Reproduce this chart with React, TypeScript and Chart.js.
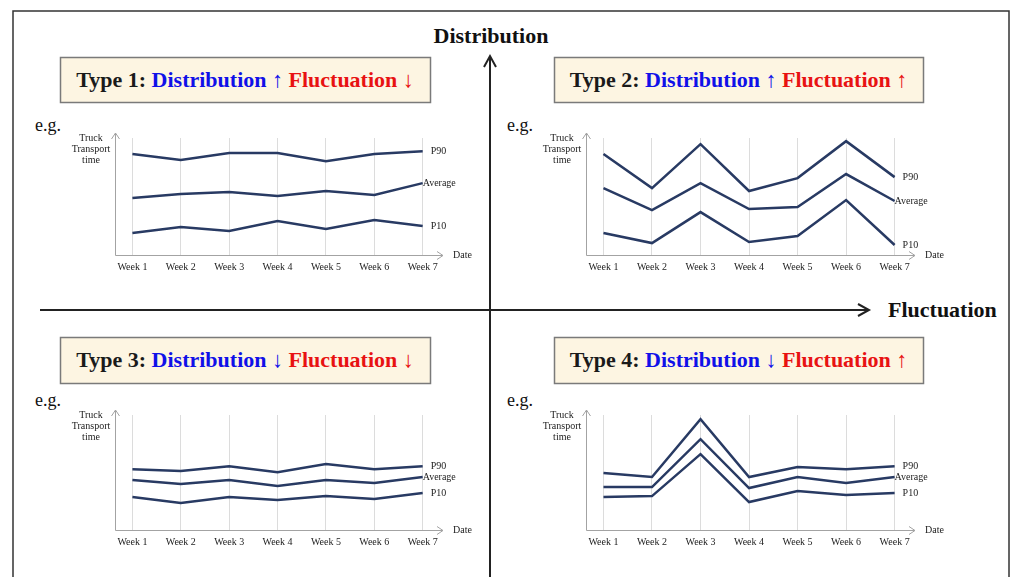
import React, { useEffect, useRef } from 'react';
import { Chart, registerables } from 'chart.js';

Chart.register(...registerables);

const weeks = ['Week 1', 'Week 2', 'Week 3', 'Week 4', 'Week 5', 'Week 6', 'Week 7'];
const seriesNames = ['P90', 'Average', 'P10'];

const type1P90 = [82.8, 77.9, 83.6, 83.6, 77.0, 82.8, 85.2];
const type1Avg = [46.7, 50.0, 51.6, 48.4, 52.5, 49.2, 59.0];
const type1P10 = [18.0, 23.0, 19.7, 27.9, 21.3, 28.7, 23.8];

const type2P90 = [82.8, 54.9, 91.0, 52.5, 63.1, 93.4, 63.9];
const type2Avg = [54.9, 36.9, 59.0, 37.7, 39.3, 66.4, 44.3];
const type2P10 = [18.0, 9.8, 35.2, 10.7, 15.6, 45.1, 8.2];

const type3P90 = [50.8, 49.2, 53.3, 48.3, 55.0, 50.8, 53.3];
const type3Avg = [41.7, 38.3, 41.7, 36.7, 41.7, 39.2, 44.2];
const type3P10 = [27.5, 22.5, 27.5, 25.0, 28.3, 25.8, 30.8];

const type4P90 = [47.5, 44.2, 92.5, 44.2, 52.5, 50.8, 53.3];
const type4Avg = [35.8, 35.8, 75.8, 35.0, 44.2, 39.2, 44.2];
const type4P10 = [27.5, 28.3, 63.3, 23.3, 32.5, 29.2, 30.8];

const SERIF = "'Liberation Serif', 'Times New Roman', serif";
const LINE_COLOR = '#283a63';

type MiniProps = {
  yAxisX: number;
  top: number;
  bottom: number;
  right: number;
  series: number[][];
};

const PAD_L = 55;
const PAD_R = 37;
const PAD_T = 20;
const PAD_B = 13;
const XAXIS_H = 20;

function MiniChart({ yAxisX, top, bottom, right, series }: MiniProps) {
  const ref = useRef<HTMLCanvasElement | null>(null);
  const left = yAxisX - PAD_L;
  const ctop = top - PAD_T;
  const width = right + PAD_R - left;
  const height = bottom + XAXIS_H + PAD_B - ctop;

  useEffect(() => {
    if (!ref.current) return;
    const decor = {
      id: 'decor',
      beforeDatasetsDraw(chart: any) {
        const { ctx, chartArea: ca } = chart;
        ctx.save();
        ctx.strokeStyle = '#a3a3a3';
        ctx.lineWidth = 1;
        const x0 = Math.round(ca.left) + 0.5;
        const y0 = Math.round(ca.bottom) + 0.5;
        ctx.beginPath();
        ctx.moveTo(x0, y0);
        ctx.lineTo(x0, ca.top - 5);
        ctx.moveTo(x0, y0);
        ctx.lineTo(ca.right, y0);
        ctx.moveTo(x0 - 4, ca.top + 1);
        ctx.lineTo(x0, ca.top - 5);
        ctx.lineTo(x0 + 4, ca.top + 1);
        ctx.moveTo(ca.right - 6, y0 - 4);
        ctx.lineTo(ca.right, y0);
        ctx.lineTo(ca.right - 6, y0 + 4);
        ctx.stroke();
        ctx.fillStyle = '#222';
        ctx.font = `10px ${SERIF}`;
        ctx.textAlign = 'center';
        ctx.textBaseline = 'middle';
        ctx.fillText('Truck', ca.left - 24, ca.top);
        ctx.fillText('Transport', ca.left - 24, ca.top + 11);
        ctx.fillText('time', ca.left - 24, ca.top + 22);
        ctx.textAlign = 'left';
        ctx.fillText('Date', ca.right + 10, ca.bottom);
        ctx.restore();
      },
      afterDatasetsDraw(chart: any) {
        const { ctx } = chart;
        ctx.save();
        ctx.fillStyle = '#222';
        ctx.font = `10px ${SERIF}`;
        ctx.textAlign = 'left';
        ctx.textBaseline = 'middle';
        chart.data.datasets.forEach((ds: any, i: number) => {
          const meta = chart.getDatasetMeta(i);
          const last = meta.data[meta.data.length - 1];
          if (!last) return;
          const off = ds.label === 'Average' ? 0 : 8;
          ctx.fillText(ds.label, last.x + off, last.y);
        });
        ctx.restore();
      },
    };

    const chart = new Chart(ref.current, {
      type: 'line',
      data: {
        datasets: series.map((vals, i) => ({
          label: seriesNames[i],
          data: vals.map((v, j) => ({ x: j, y: v })),
          borderColor: LINE_COLOR,
          borderWidth: 2.5,
          pointRadius: 0,
          tension: 0,
          fill: false,
          clip: false as any,
        })),
      },
      options: {
        animation: false,
        responsive: false,
        events: [],
        layout: { padding: { left: PAD_L, right: PAD_R, top: PAD_T, bottom: PAD_B } },
        plugins: { legend: { display: false }, tooltip: { enabled: false }, title: { display: false } },
        scales: {
          x: {
            type: 'linear',
            min: -0.36,
            max: 6.42,
            afterFit: (s: any) => {
              s.height = XAXIS_H;
            },
            border: { display: false },
            grid: { color: '#dcdcdc', lineWidth: 1, drawTicks: false },
            ticks: {
              stepSize: 1,
              includeBounds: false,
              autoSkip: false,
              maxRotation: 0,
              padding: 6,
              color: '#222',
              font: { family: SERIF, size: 10 },
              callback: (v: any) => weeks[v] ?? '',
            },
          },
          y: {
            display: false,
            min: 0,
            max: 96,
          },
        },
      },
      plugins: [decor],
    } as any);
    return () => chart.destroy();
  }, []);

  return (
    <canvas
      ref={ref}
      width={width}
      height={height}
      style={{ position: 'absolute', left, top: ctop, width, height }}
    />
  );
}

function TitleBox({ x, y, w, h, num, dUp, fUp }: { x: number; y: number; w: number; h: number; num: number; dUp: boolean; fUp: boolean }) {
  return (
    <g>
      <rect x={x + 0.5} y={y + 0.5} width={w} height={h} fill="#fdf5e2" stroke="#7a7a7a" strokeWidth={1.5} />
      <text
        x={x + w / 2}
        y={y + 30}
        textAnchor="middle"
        fontFamily={SERIF}
        fontWeight="bold"
        fontSize={22}
      >
        <tspan fill="#1a1a1a">{`Type ${num}: `}</tspan>
        <tspan fill="#1010e8">{`Distribution ${dUp ? '↑' : '↓'}`}</tspan>
        <tspan fill="#e81212">{` Fluctuation ${fUp ? '↑' : '↓'}`}</tspan>
      </text>
    </g>
  );
}

export default function App() {
  return (
    <div
      style={{
        position: 'fixed',
        left: 0,
        top: 0,
        width: 1011,
        height: 577,
        background: '#fff',
        overflow: 'hidden',
      }}
    >
      <svg width={1011} height={577} style={{ position: 'absolute', left: 0, top: 0 }}>
        <rect x={13} y={11} width={996} height={620} fill="none" stroke="#333" strokeWidth={1.5} />
        {/* vertical axis */}
        <line x1={490} y1={577} x2={490} y2={57} stroke="#222" strokeWidth={2} />
        <polyline points="484,67 490,56 496,67" fill="none" stroke="#222" strokeWidth={2} />
        {/* horizontal axis */}
        <line x1={40} y1={310} x2={868} y2={310} stroke="#222" strokeWidth={2} />
        <polyline points="858,304 869,310 858,316" fill="none" stroke="#222" strokeWidth={2} />
        <text x={491} y={43} textAnchor="middle" fontFamily={SERIF} fontWeight="bold" fontSize={22} fill="#111">
          Distribution
        </text>
        <text x={888} y={317} textAnchor="start" fontFamily={SERIF} fontWeight="bold" fontSize={22} fill="#111">
          Fluctuation
        </text>
        <TitleBox x={60} y={57} w={370} h={45} num={1} dUp={true} fUp={false} />
        <TitleBox x={554} y={57} w={369} h={45} num={2} dUp={true} fUp={true} />
        <TitleBox x={60} y={337} w={370} h={46} num={3} dUp={false} fUp={false} />
        <TitleBox x={554} y={337} w={369} h={46} num={4} dUp={false} fUp={true} />
        <text x={35} y={131} fontFamily={SERIF} fontSize={18} fill="#111">e.g.</text>
        <text x={507} y={131} fontFamily={SERIF} fontSize={18} fill="#111">e.g.</text>
        <text x={35} y={406} fontFamily={SERIF} fontSize={18} fill="#111">e.g.</text>
        <text x={507} y={406} fontFamily={SERIF} fontSize={18} fill="#111">e.g.</text>
      </svg>
      <MiniChart yAxisX={115} top={138} bottom={255} right={443} series={[type1P90, type1Avg, type1P10]} />
      <MiniChart yAxisX={586} top={138} bottom={255} right={915} series={[type2P90, type2Avg, type2P10]} />
      <MiniChart yAxisX={115} top={415} bottom={530} right={443} series={[type3P90, type3Avg, type3P10]} />
      <MiniChart yAxisX={586} top={415} bottom={530} right={915} series={[type4P90, type4Avg, type4P10]} />
    </div>
  );
}
